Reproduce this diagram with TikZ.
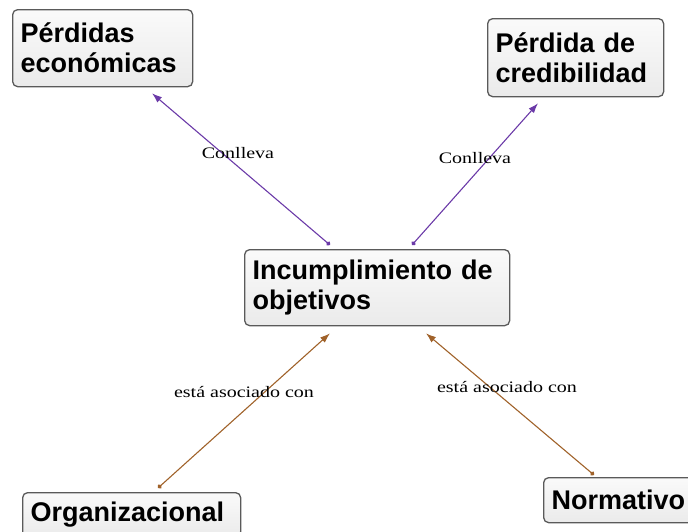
\documentclass[tikz,border=0pt]{standalone}
\usepackage{fontspec}
\setmainfont{Liberation Sans}
\newfontfamily\lblfont[FakeStretch=1.25]{Liberation Serif}
\usetikzlibrary{arrows.meta}
\definecolor{purp}{HTML}{6B3AA8}
\definecolor{brwn}{HTML}{A0622A}
\definecolor{bord}{HTML}{5A5A5A}
\tikzset{
  concept/.style={draw=bord, line width=1.3pt, rounded corners=5pt,
    top color=gray!4, bottom color=gray!16, anchor=north west,
    inner xsep=8pt, inner ysep=0pt, align=left,
    font=\fontsize{27}{30}\selectfont\bfseries},
  conn/.style={line width=1.1pt, {Circle[length=4.5pt]}-{Latex[length=10pt,width=7pt]}},
  lbl/.style={font=\lblfont\fontsize{16}{18}\selectfont, inner sep=0pt}
}
\begin{document}
\begin{tikzpicture}[x=1pt,y=-1pt]
\useasboundingbox (0,0) rectangle (688,531);
\clip (0,0) rectangle (688,531);
\node[concept, text width=164pt, minimum height=77pt] (pe) at (12,9) {Pérdidas\\económicas};
\node[concept, text width=160pt, minimum height=78pt] (pc) at (487,18) {Pérdida de\\credibilidad};
\node[concept, text width=249pt, minimum height=76pt] (inc) at (244,249) {Incumplimiento de\\objetivos};
\node[concept, text width=202pt, minimum height=44pt] (org) at (22,492) {Organizacional};
\node[concept, text width=180pt, minimum height=45pt] (nor) at (543,477) {Normativo};

\draw[conn, purp] ([shift={(86,-4)}]inc.north west) -- ([shift={(140,6)}]pe.south west);
\draw[conn, purp] ([shift={(168,-4)}]inc.north west) -- ([shift={(51,6)}]pc.south west);
\draw[conn, brwn] ([shift={(136,-4)}]org.north west) -- ([shift={(86,7)}]inc.south west);
\draw[conn, brwn] ([shift={(51,-2)}]nor.north west) -- ([shift={(182,7)}]inc.south west);

\node[lbl] (l1) at (238,153) {Conlleva};
\node[lbl] (l2) at (475,158) {Conlleva};
\node[lbl] (l3) at (244,392) {está asociado con};
\node[lbl] (l4) at (507,387) {está asociado con};
\end{tikzpicture}
\end{document}
